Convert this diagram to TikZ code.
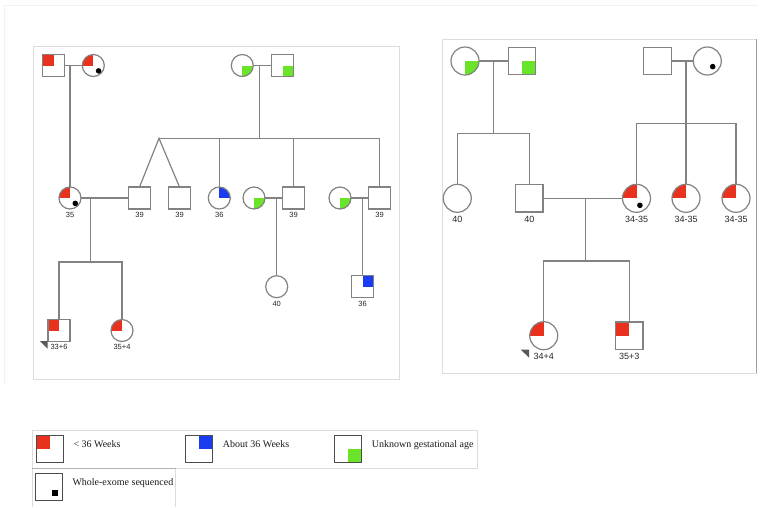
\documentclass[tikz,border=0pt]{standalone}
\usepackage{fontspec}
\setmainfont{Liberation Serif}
\newfontfamily\labfont{Liberation Sans}
\definecolor{pr}{RGB}{232,50,30}
\definecolor{pb}{RGB}{25,60,240}
\definecolor{pg}{RGB}{105,228,40}
\definecolor{ln}{RGB}{130,130,130}
\definecolor{fr}{RGB}{220,220,220}
\definecolor{ffr}{RGB}{242,242,242}
\tikzset{
  sym/.style={draw=ln, line width=1.2pt, inner sep=0pt, outer sep=0pt, fill=white},
  msm/.style={sym, rectangle, minimum size=22pt},
  fsm/.style={sym, circle, minimum size=22pt},
  mlg/.style={sym, rectangle, minimum size=27.5pt},
  flg/.style={sym, circle, minimum size=28pt},
  legsq/.style={sym, draw=black!70, rectangle, minimum size=27pt},
  qTL/.style={path picture={\fill[#1] (path picture bounding box.center) rectangle (path picture bounding box.north west);}},
  qTR/.style={path picture={\fill[#1] (path picture bounding box.center) rectangle (path picture bounding box.north east);}},
  qBR/.style={path picture={\fill[#1] (path picture bounding box.center) rectangle (path picture bounding box.south east);}},
  conn/.style={draw=ln, line width=1.2pt},
  labs/.style={font=\labfont\fontsize{7.5}{9}\selectfont, inner sep=0pt, anchor=base, text=black!85},
  labb/.style={font=\labfont\fontsize{9}{11}\selectfont, inner sep=0pt, anchor=base, text=black!85},
  legtxt/.style={font=\fontsize{10}{12}\selectfont, inner sep=0pt, anchor=base west, text=black!90},
  proband/.style={fill=black!65},
}
\begin{document}
\begin{tikzpicture}[x=1pt, y=-1pt]
\useasboundingbox (0,0) rectangle (762,507);
% faint outer frame
\draw[ffr, line width=1pt] (4,385) -- (4,5) -- (758,5);
% panels
\draw[fr, line width=1pt] (33,46) rectangle (399.5,379);
\draw[fr, line width=1pt] (442,39) rectangle (756.7,373);
\draw[gray!75, line width=1pt] (756.7,39) -- (756.7,373);

% ================= LEFT PEDIGREE =================
\node[msm, qTL=pr] (L1a) at (53.5,65.5) {};
\node[fsm, qTL=pr] (L1b) at (93.3,65.5) {};
\node[fsm, qBR=pg] (L1c) at (242.3,65.5) {};
\node[msm, qBR=pg] (L1d) at (282.5,65.5) {};

\node[fsm, qTL=pr] (L2a) at (70,198) {};
\node[msm] (L2b) at (139.5,198) {};
\node[msm] (L2c) at (179.5,198) {};
\node[fsm, qTR=pb] (L2d) at (219.3,198) {};
\node[fsm, qBR=pg] (L2e) at (254,198) {};
\node[msm] (L2f) at (293.5,198) {};
\node[fsm, qBR=pg] (L2g) at (340,198) {};
\node[msm] (L2h) at (379.5,198) {};

\node[msm, qTL=pr] (L3a) at (59,330.5) {};
\node[fsm, qTL=pr] (L3b) at (122,330.5) {};
\node[fsm] (L3c) at (276.7,286.7) {};
\node[msm, qTR=pb] (L3d) at (362.5,286.7) {};

% whole-exome dots
\fill (L1b.center) ++(5.3,5.4) circle (2.8pt);
\fill (L2a.center) ++(5.3,5.4) circle (2.8pt);

% connectors
\draw[conn] (L1a) -- (L1b);
\draw[conn] (L2a.north) -- (L2a.north |- L1a.center);
\draw[conn] (L1c) -- (L1d);
\coordinate (Ls1) at (259.3,138.3);
\coordinate (Ltw) at (159,138.3);
\draw[conn] (Ls1) -- (Ls1 |- L1c.center);
\draw[conn] (Ltw) -- (L2h.north |- Ltw);
\draw[conn] (L2b.north) -- (Ltw) -- (L2c.north);
\draw[conn] (L2d.north) -- (L2d.north |- Ltw);
\draw[conn] (L2f.north) -- (L2f.north |- Ltw);
\draw[conn] (L2h.north) -- (L2h.north |- Ltw);
\draw[conn] (L2a) -- (L2b);
\coordinate (Ls2) at (90.3,262);
\draw[conn] (Ls2) -- (Ls2 |- L2a.center);
\draw[conn] (L3a.north) |- (Ls2) -| (L3b.north);
\draw[conn] (L2e) -- (L2f);
\draw[conn] (L3c.north) -- (L3c.north |- L2e.center);
\draw[conn] (L2g) -- (L2h);
\draw[conn] (L3d.north) -- (L3d.north |- L2g.center);

% proband arrow
\fill[proband] (40,341) -- (47.5,341) -- (47.5,348.5) -- cycle;

% labels
\path (L2a.south) ++(0,8.3) node[labs] (tL2a) {35};
\path (L2b.south) ++(0,8.3) node[labs] (tL2b) {39};
\path (L2c.south) ++(0,8.3) node[labs] (tL2c) {39};
\path (L2d.south) ++(0,8.3) node[labs] (tL2d) {36};
\path (L2f.south) ++(0,8.3) node[labs] (tL2f) {39};
\path (L2h.south) ++(0,8.3) node[labs] (tL2h) {39};
\path (L3a.south) ++(0,8.3) node[labs] (tL3a) {33+6};
\path (L3b.south) ++(0,8.3) node[labs] (tL3b) {35+4};
\path (L3c.south) ++(0,8.3) node[labs] (tL3c) {40};
\path (L3d.south) ++(0,8.3) node[labs] (tL3d) {36};

% ================= RIGHT PEDIGREE =================
\node[flg, qBR=pg] (R1a) at (465,61) {};
\node[mlg, qBR=pg] (R1b) at (522,61) {};
\node[mlg] (R1c) at (657.5,61) {};
\node[flg] (R1d) at (707.3,61) {};

\node[flg] (R2a) at (457.3,198.3) {};
\node[mlg] (R2b) at (529.3,198.3) {};
\node[flg, qTL=pr] (R2c) at (636.5,198.3) {};
\node[flg, qTL=pr] (R2d) at (686,198.3) {};
\node[flg, qTL=pr] (R2e) at (736,198.3) {};

\node[flg, qTL=pr] (R3a) at (543.7,335.7) {};
\node[mlg, qTL=pr] (R3b) at (629.3,335.7) {};

\fill (R1d.center) ++(5.4,5.6) circle (2.8pt);
\fill (R2c.center) ++(3.4,7) circle (2.8pt);

\draw[conn] (R1a) -- (R1b);
\coordinate (Rs1) at (493.3,133.7);
\draw[conn] (Rs1) -- (Rs1 |- R1a.center);
\draw[conn] (R2a.north) |- (Rs1) -| (R2b.north);
\draw[conn] (R1c) -- (R1d);
\coordinate (Rs2) at (686,123.3);
\draw[conn] (R2d.north) -- (R2d.north |- R1c.center);
\draw[conn] (R2c.north) |- (Rs2) -| (R2e.north);
\draw[conn] (R2b) -- (R2c);
\coordinate (Rs3) at (585.7,261);
\draw[conn] (Rs3) -- (Rs3 |- R2b.center);
\draw[conn] (R3a.north) |- (Rs3) -| (R3b.north);

\fill[proband] (520.5,349.5) -- (529,349.5) -- (529,357.5) -- cycle;

\path (R2a.south) ++(0,10.5) node[labb] (tR2a) {40};
\path (R2b.south) ++(0,10.5) node[labb] (tR2b) {40};
\path (R2c.south) ++(0,10.5) node[labb] (tR2c) {34-35};
\path (R2d.south) ++(0,10.5) node[labb] (tR2d) {34-35};
\path (R2e.south) ++(0,10.5) node[labb] (tR2e) {34-35};
\path (R3a.south) ++(0,9.8) node[labb] (tR3a) {34+4};
\path (R3b.south) ++(0,9.8) node[labb] (tR3b) {35+3};

% ================= LEGEND =================
\draw[fr, line width=1pt] (32.3,430) rectangle (477.7,468.3);
\draw[fr, line width=1pt] (32.3,468.3) -- (32.3,507);
\draw[fr, line width=1pt] (175.7,468.3) -- (175.7,507);
\draw[gray!60, line width=1pt] (32.3,468.3) -- (175.7,468.3);

\node[legsq, qTL=pr] (G1) at (49.7,449) {};
\node[legsq, qTR=pb] (G2) at (199,449) {};
\node[legsq, qBR=pg] (G3) at (348.3,449) {};
\node[legsq] (G4) at (48.7,487.3) {};
\fill (G4.center) ++(3.6,2.7) rectangle ++(6,6);

\node[legtxt] (tG1) at (73.3,447.3) {< 36 Weeks};
\node[legtxt] (tG2) at (222.7,447.3) {About 36 Weeks};
\node[legtxt] (tG3) at (371.7,447.3) {Unknown gestational age};
\node[legtxt] (tG4) at (72.3,485.3) {Whole-exome sequenced};
\end{tikzpicture}
\end{document}
